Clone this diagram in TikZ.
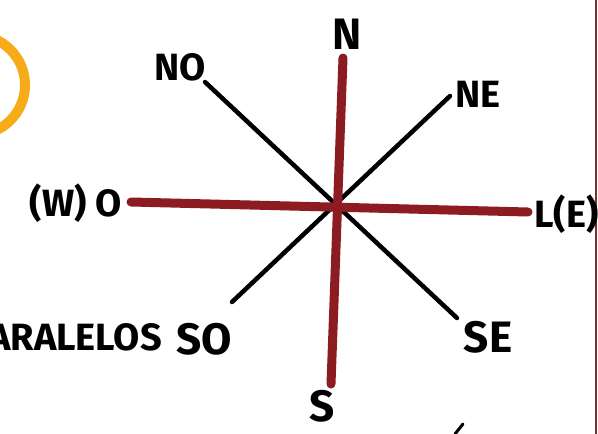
\documentclass[tikz,border=0pt]{standalone}
\usepackage{fontspec}
\setmainfont{Fira Sans}
\definecolor{axisred}{RGB}{140,28,34}
\definecolor{sunorange}{RGB}{246,172,24}
\definecolor{edgebrown}{RGB}{120,50,40}
\tikzset{
  axis/.style={draw=axisred, line width=9pt, line cap=round},
  diag/.style={draw=black, line width=4.5pt, line cap=round},
  lbl/.style={inner sep=0pt, text=black, font=\bfseries\fontsize{38}{38}\selectfont},
  biglbl/.style={lbl, font=\bfseries\fontsize{44}{44}\selectfont},
}
\begin{document}
\begin{tikzpicture}[x=1pt,y=-1pt]
\path[use as bounding box] (0,0) rectangle (598,434);
\fill[white] (0,0) rectangle (598,434);
% orange partial circle
\draw[sunorange, line width=10pt] (-25,85) circle (50);
% right edge line
\coordinate (edgeTop) at (596,0);
\coordinate (edgeBot) at (596,434);
\draw[edgebrown, line width=2pt] (edgeTop) -- (edgeBot);
% line ends
\coordinate (nEnd) at (343,58);
\coordinate (sEnd) at (331,384);
\coordinate (wEnd) at (131,202);
\coordinate (eEnd) at (528,212);
\coordinate (nwEnd) at (205,82);
\coordinate (seEnd) at (457,318);
\coordinate (neEnd) at (450,96);
\coordinate (swEnd) at (232,302);
\draw[diag] (nwEnd) -- (seEnd);
\draw[diag] (neEnd) -- (swEnd);
\draw[axis] (nEnd) -- (sEnd);
\draw[axis] (wEnd) -- (eEnd);
% labels
\node[biglbl] (N) at (347,34) {N};
\node[lbl] (NO) at (180,67) {NO};
\node[lbl] (NE) at (478,94) {NE};
\node[lbl, anchor=east] (O) at (122,203) {(W) O};
\node[lbl, anchor=west] (E) at (534,214) {L(E)};
\node[lbl, anchor=east] (PAR) at (162,337) {ARALELOS};
\node[biglbl] (SO) at (204,339) {SO};
\node[biglbl] (SE) at (488,337) {SE};
\node[biglbl] (S) at (322,406) {S};
% small stroke at bottom
\coordinate (tickA) at (455,434);
\coordinate (tickB) at (463,424);
\draw[black, line width=3pt, line cap=round] (tickA) -- (tickB);
\end{tikzpicture}
\end{document}
